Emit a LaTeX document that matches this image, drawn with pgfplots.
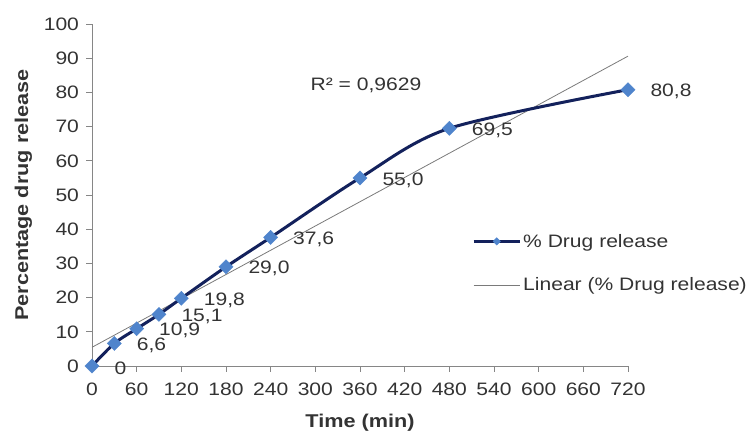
\documentclass[border=0pt]{standalone}
\usepackage{pgfplots}
\pgfplotsset{compat=1.18}
\usepackage{fontspec}
\setmainfont{Liberation Sans}[FakeStretch=1.17]

\definecolor{navyline}{HTML}{13215C}
\definecolor{markblue}{HTML}{4F84CC}
\definecolor{axisgray}{HTML}{868686}
\definecolor{trendgray}{HTML}{7A7A7A}
\definecolor{txt}{HTML}{333333}

\newcommand{\chartfont}{\fontsize{18}{21}\selectfont}

\begin{document}
\begin{tikzpicture}
\begin{axis}[
  scale only axis,
  width=536pt, height=342pt,
  xmin=0, xmax=720, ymin=0, ymax=100,
  xtick={0,60,...,720},
  ytick={0,10,...,100},
  axis x line*=bottom,
  axis y line*=left,
  axis line style={axisgray, line width=0.8pt},
  tick style={axisgray, line width=0.8pt},
  tick align=outside,
  major tick length=5.5pt,
  tick label style={font=\chartfont, text=txt},
  yticklabel style={xshift=-4pt},
  xticklabel style={yshift=-8pt},
  /pgf/number format/assume math mode=true,
  xlabel={Time (min)},
  ylabel={Percentage drug release},
  label style={font=\fontsize{18.5}{21}\selectfont\bfseries, text=txt},
  xlabel style={yshift=-11pt},
  ylabel style={yshift=5pt},
  legend style={draw=none, fill=none, inner sep=0pt,
    at={(0.709,0.392)}, anchor=north west,
    font=\chartfont, text=txt, row sep=25pt,
    legend cell align=left,
    /tikz/every even column/.append style={column sep=2pt}},
  legend image code/.code={%
    \draw[mark repeat=2, mark phase=2, #1]
      plot coordinates {(0pt,0pt) (23pt,0pt) (46pt,0pt)};},
  clip=false,
]
% legend samples
\addlegendimage{navyline, line width=3pt, mark=square*, mark size=2.6pt,
  mark options={rotate=45, fill=markblue, draw=markblue, line width=0.4pt}}
\addlegendentry{\% Drug release}
\addlegendimage{trendgray, line width=0.8pt}
\addlegendentry{Linear (\% Drug release)}

% linear trend line (least-squares fit of the release data)
\addplot[trendgray, line width=0.8pt, forget plot]
  coordinates {(0,5.47) (720,90.60)};

% cumulative release, smoothed
\addplot[navyline, line width=3pt, smooth, tension=0.5, forget plot,
  mark=square*, mark size=5pt,
  mark options={rotate=45, fill=markblue, draw=markblue, line width=0.4pt},
  nodes near coords, point meta=explicit symbolic,
  every node near coord/.append style={anchor=west, xshift=19pt, yshift=-2pt,
    font=\chartfont, text=txt}]
  table[meta=lab] {
  x   y     lab
  0   0     0
  30  6.6   6,6
  60  10.9  10,9
  90  15.1  15,1
  120 19.8  19,8
  180 29.0  29,0
  240 37.6  37,6
  360 55.0  55,0
  480 69.5  69,5
  720 80.8  80,8
  };

\node[font=\chartfont, text=txt] at (axis cs:368,82.2) {R² = 0,9629};

\coordinate (bbl) at (rel axis cs:-0.1716,-0.1959);
\coordinate (btr) at (rel axis cs:1.2388,1.0702);
\end{axis}
\pgfresetboundingbox
\path[use as bounding box] (bbl) rectangle (btr);
\end{tikzpicture}
\end{document}
